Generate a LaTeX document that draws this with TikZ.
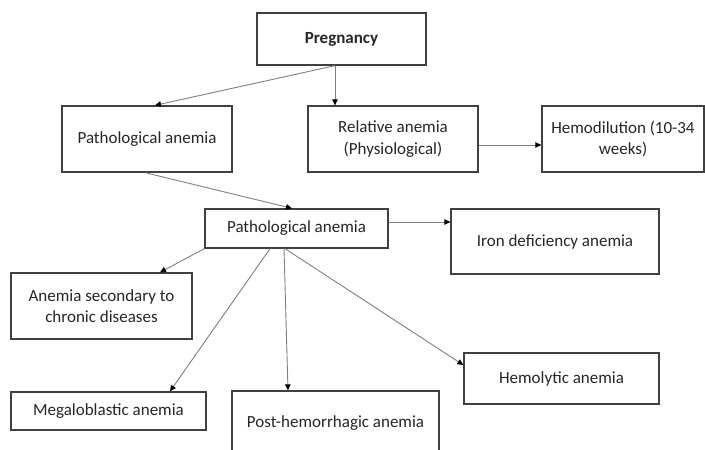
\documentclass[tikz,border=0pt]{standalone}
\usepackage{fontspec}
\setmainfont{Carlito}
\usetikzlibrary{arrows.meta}
\definecolor{boxline}{HTML}{404040}
\definecolor{conn}{HTML}{808080}
\definecolor{txt}{HTML}{262626}
\begin{document}
\begin{tikzpicture}[x=1pt,y=-1pt,
  box/.style={draw=boxline, line width=1.3pt, rectangle, inner sep=2pt,
    text=txt, align=center, font=\fontsize{17}{21.5}\selectfont},
  arr/.style={draw=conn, line width=0.9pt,
    -{Triangle[length=6pt,width=5.5pt,fill=black,color=black]}}]
\useasboundingbox (0,0) rectangle (705,450);
\clip (0,0) rectangle (705,450);
\fill[white] (0,0) rectangle (705,450);

\node[box, minimum width=169pt, minimum height=52pt] (preg) at (341.5,39) {\textbf{Pregnancy}};
\node[box, minimum width=170pt, minimum height=66pt] (path1) at (147,139) {Pathological anemia};
\node[box, minimum width=170pt, minimum height=66pt] (rel) at (393,139) {Relative anemia\\(Physiological)};
\node[box, minimum width=162pt, minimum height=66pt] (hemo) at (623,139) {Hemodilution (10-34\\weeks)};
\node[box, minimum width=183pt, minimum height=39pt] (path2) at (296.5,228.5) {Pathological anemia};
\node[box, minimum width=208pt, minimum height=65pt] (iron) at (555,241.5) {Iron deficiency anemia};
\node[box, minimum width=181pt, minimum height=66pt] (sec) at (101.5,306) {Anemia secondary to\\chronic diseases};
\node[box, minimum width=195pt, minimum height=38pt] (mega) at (108.5,411) {Megaloblastic anemia};
\node[box, minimum width=207pt, minimum height=64pt] (post) at (335.5,423) {Post-hemorrhagic anemia};
\node[box, minimum width=195pt, minimum height=51pt] (hemol) at (561.5,378.5) {Hemolytic anemia};

\draw[arr] ([xshift=-6.5pt]preg.south) -- ([xshift=8pt]path1.north);
\draw[arr] ([xshift=-6.5pt]preg.south) -- ([xshift=-58pt]rel.north);
\draw[arr] ([yshift=-6pt]rel.east) -- ([yshift=-6pt]hemo.west);
\draw[arr] ([xshift=-2pt]path1.south) -- ([xshift=-4.5pt]path2.north);
\draw[arr] ([yshift=6.5pt]path2.east) -- ([yshift=19.5pt]iron.west);
\draw[arr] (path2.south west) -- ([xshift=58.5pt]sec.north);
\draw[arr] ([xshift=-26.5pt]path2.south) -- ([xshift=61.5pt]mega.north);
\draw[arr] ([xshift=-12.5pt]path2.south) -- ([xshift=-47.5pt]post.north);
\draw[arr] ([xshift=-11.5pt]path2.south) -- ([yshift=13.5pt]hemol.west);
\end{tikzpicture}
\end{document}
